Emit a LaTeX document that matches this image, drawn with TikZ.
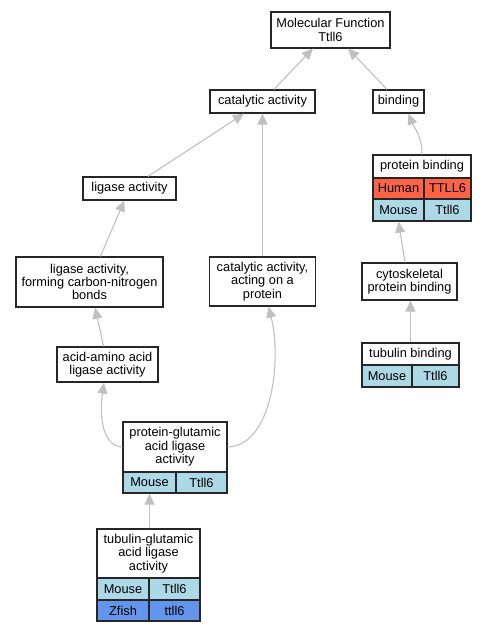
\documentclass[tikz,border=0pt]{standalone}
\usepackage{fontspec}
\setmainfont{Liberation Sans}
\usepackage{tikz}
\usetikzlibrary{arrows.meta}
\usepackage{color}
\definecolor{humanred}{RGB}{255, 99, 71}
\definecolor{mouseblue}{RGB}{173, 216, 230}
\definecolor{fishblue}{RGB}{100, 149, 237}
\definecolor{edgegray}{RGB}{192, 192, 192}

\tikzset{
    term/.style={draw=black!85,line width=1.2pt,fill=white,inner sep=0pt,align=center,
        font=\fontsize{12.8}{13.4}\selectfont},
    cell/.style={term,fill=#1},
    isa/.style={draw=edgegray,line width=1.1pt,-{Triangle[length=11pt,width=10pt]}}
}

\begin{document}
\begin{tikzpicture}[x=1pt,y=-1pt]
        \useasboundingbox (0,0) rectangle (485,632);

        \coordinate (c-mf) at (330.5,30);
        \coordinate (c-cat) at (262.5,101.5);
        \coordinate (c-bind) at (398.5,101.5);
        \coordinate (c-lig) at (129.5,188.5);
        \coordinate (c-form) at (89.5,282);
        \coordinate (c-act) at (262.5,281.5);
        \coordinate (c-aa) at (107.5,364.5);
        \coordinate (c-cyto) at (409.5,281.5);

        \node[term,minimum width=119,minimum height=36] (mf) at (c-mf) {Molecular Function\\Ttll6};
        \node[term,minimum width=105,minimum height=23] (cat) at (c-cat) {catalytic activity};
        \node[term,minimum width=51,minimum height=23] (bind) at (c-bind) {binding};
        \node[term,minimum width=93,minimum height=23] (lig) at (c-lig) {ligase activity};
        \node[term,minimum width=147,minimum height=50] (form) at (c-form) {ligase activity,\\forming carbon-nitrogen\\bonds};
        \node[term,minimum width=106,minimum height=49] (act) at (c-act) {catalytic activity,\\acting on a\\protein};
        \node[term,minimum width=101,minimum height=35] (aa) at (c-aa) {acid-amino acid\\ligase activity};
        \node[term,minimum width=95,minimum height=37] (cyto) at (c-cyto) {cytoskeletal\\protein binding};

        % protein binding
        \node[term,minimum width=98,minimum height=23] (pbHead) at (422,166.5) {protein binding};
        \node[cell=humanred,minimum width=51,minimum height=21] (pbHuman) at (398.5,188.5) {Human};
        \node[cell=humanred,minimum width=47,minimum height=21] (pbHumanGene) at (447.5,188.5) {TTLL6};
        \node[cell=mouseblue,minimum width=51,minimum height=22] (pbMouse) at (398.5,210) {Mouse};
        \node[cell=mouseblue,minimum width=47,minimum height=22] (pbMouseGene) at (447.5,210) {Ttll6};

        % tubulin binding
        \node[term,minimum width=97,minimum height=22] (tbHead) at (410.5,354) {tubulin binding};
        \node[cell=mouseblue,minimum width=50,minimum height=22] (tbMouse) at (387,376) {Mouse};
        \node[cell=mouseblue,minimum width=47,minimum height=22] (tbMouseGene) at (435.5,376) {Ttll6};

        % protein-glutamic acid ligase activity
        \node[term,minimum width=104,minimum height=50] (pgHead) at (175,447) {protein-glutamic\\acid ligase\\activity};
        \node[cell=mouseblue,minimum width=53,minimum height=21] (pgMouse) at (149.5,482.5) {Mouse};
        \node[cell=mouseblue,minimum width=51,minimum height=21] (pgMouseGene) at (201.5,482.5) {Ttll6};

        % tubulin-glutamic acid ligase activity
        \node[term,minimum width=103,minimum height=49] (tgHead) at (148.5,553.5) {tubulin-glutamic\\acid ligase\\activity};
        \node[cell=mouseblue,minimum width=52,minimum height=22] (tgMouse) at (123,589) {Mouse};
        \node[cell=mouseblue,minimum width=51,minimum height=22] (tgMouseGene) at (174.5,589) {Ttll6};
        \node[cell=fishblue,minimum width=52,minimum height=21] (tgFish) at (123,610.5) {Zfish};
        \node[cell=fishblue,minimum width=51,minimum height=21] (tgFishGene) at (174.5,610.5) {ttll6};

        \draw[isa] (cat) -- (mf);
        \draw[isa] (bind) -- (mf);
        \draw[isa] (lig) -- (cat);
        \draw[isa] (act) -- (cat);
        \draw[isa] (pbHead.north) .. controls (422,135) and (414,128) .. ([xshift=10]bind.south);
        \draw[isa] (form) -- (lig);
        \draw[isa] ([xshift=-4.5]cyto.north) -- (pbMouse.south);
        \draw[isa] (aa) -- (form);
        \draw[isa] (tbHead.north) -- (tbHead.north |- cyto.south);
        \draw[isa] (pgHead.west) .. controls (100,446) and (100,410) .. ([xshift=-3.5]aa.south);
        \draw[isa] (pgHead.east) .. controls (272,446) and (282,360) .. ([xshift=6]act.south);
        \draw[isa] (pgMouse.south |- tgHead.north) -- (pgMouse.south);
    \end{tikzpicture}
\end{document}
